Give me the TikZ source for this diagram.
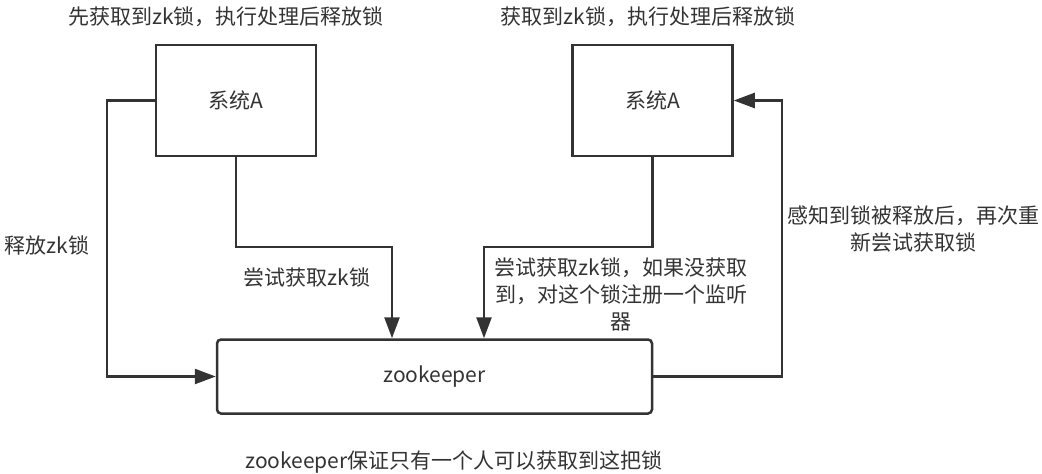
\documentclass[tikz,border=0pt]{standalone}
\usepackage{fontspec}
\setmainfont{Noto Sans CJK SC}
\usepackage{tikz}
\usetikzlibrary{arrows.meta}
\definecolor{ink}{HTML}{333333}

\begin{document}
\begin{tikzpicture}
[x=1pt,y=-1pt,
 every node/.style={text=ink,font=\fontsize{21}{27}\selectfont},
 sysbox/.style={draw=ink,line width=2.5pt,minimum width=160pt,minimum height=111pt,inner sep=0pt},
 zkbox/.style={draw=ink,line width=2.5pt,rounded corners=4pt,minimum width=435pt,minimum height=74pt,inner sep=0pt},
 conn/.style={draw=ink,line width=2.5pt,-{Triangle[length=21pt,width=15pt]}},
 lbl/.style={align=center,inner sep=0pt}]
\useasboundingbox (0,0) rectangle (1042,474);

\node[sysbox](sysL) at (236,100.5){系统A};
\node[sysbox](sysR) at (652.5,100.5){系统A};
\node[zkbox](zk) at (434.5,376.5){zookeeper};

\node[lbl](topL) at (226,17){先获取到zk锁，执行处理后释放锁};
\node[lbl](topR) at (648,17){获取到zk锁，执行处理后释放锁};
\node[lbl](relLbl) at (47,245){释放zk锁};
\node[lbl](tryLbl) at (307,277){尝试获取zk锁};
\node[lbl](watchLbl) at (621,294){尝试获取zk锁，如果没获取\\到，对这个锁注册一个监听\\器};
\node[lbl](notifyLbl) at (913,229){感知到锁被释放后，再次重\\新尝试获取锁};
\node[lbl](note) at (454,462){zookeeper保证只有一个人可以获取到这把锁};

\coordinate(relBend) at (107,100.5);
\coordinate(tryBend) at (392,247);
\coordinate(watchBend) at (484,247);
\coordinate(notifyBend) at (782,100.5);

\draw[conn] (sysL.west) -- (relBend) |- (zk.west);
\draw[conn] (sysL.south) |- (tryBend) -- (tryBend |- zk.north);
\draw[conn] (sysR.south) |- (watchBend) -- (watchBend |- zk.north);
\draw[conn] (zk.east) -| (notifyBend) -- (sysR.east);

\end{tikzpicture}
\end{document}
